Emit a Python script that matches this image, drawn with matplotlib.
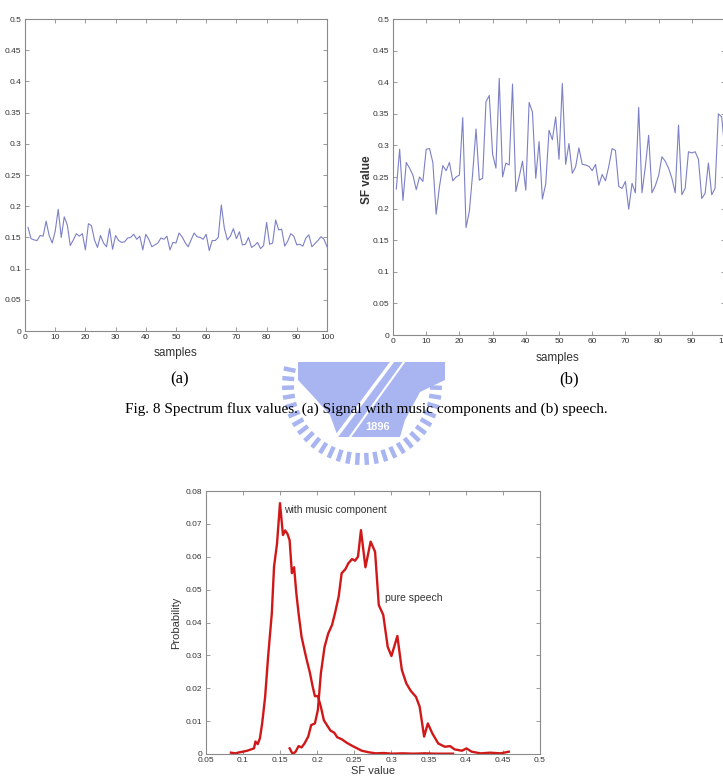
import numpy as np
import matplotlib
matplotlib.use('Agg')
import matplotlib.pyplot as plt
from matplotlib.patches import Polygon, Rectangle

# D A T A  ---------------------------------------------------------

samples = list(range(1, 101))

# (a) SF values, signal with music components
sf_music = [0.166, 0.148, 0.146, 0.145, 0.153, 0.152, 0.176, 0.153, 0.141, 0.160,
            0.195, 0.150, 0.183, 0.170, 0.137, 0.146, 0.156, 0.152, 0.156, 0.130,
            0.172, 0.169, 0.146, 0.134, 0.153, 0.141, 0.135, 0.164, 0.131, 0.153,
            0.145, 0.142, 0.143, 0.149, 0.150, 0.155, 0.147, 0.152, 0.130, 0.155,
            0.147, 0.135, 0.138, 0.141, 0.149, 0.147, 0.152, 0.130, 0.142, 0.141,
            0.157, 0.151, 0.142, 0.135, 0.146, 0.157, 0.151, 0.150, 0.147, 0.155,
            0.129, 0.145, 0.145, 0.150, 0.202, 0.165, 0.146, 0.152, 0.164, 0.148,
            0.159, 0.138, 0.139, 0.150, 0.134, 0.137, 0.142, 0.132, 0.137, 0.174,
            0.139, 0.141, 0.178, 0.162, 0.163, 0.136, 0.144, 0.156, 0.152, 0.138,
            0.139, 0.136, 0.149, 0.154, 0.135, 0.140, 0.145, 0.151, 0.147, 0.135]

# (b) SF values, speech
sf_speech = [0.231, 0.294, 0.213, 0.273, 0.264, 0.253, 0.230, 0.250, 0.243, 0.294,
             0.295, 0.273, 0.191, 0.235, 0.268, 0.260, 0.273, 0.244, 0.250, 0.253,
             0.344, 0.170, 0.196, 0.256, 0.326, 0.245, 0.248, 0.369, 0.379, 0.286,
             0.264, 0.406, 0.250, 0.272, 0.269, 0.397, 0.227, 0.250, 0.275, 0.229,
             0.368, 0.353, 0.248, 0.306, 0.215, 0.239, 0.324, 0.309, 0.345, 0.278,
             0.398, 0.270, 0.303, 0.256, 0.266, 0.296, 0.270, 0.269, 0.267, 0.260,
             0.270, 0.237, 0.254, 0.244, 0.267, 0.295, 0.292, 0.235, 0.232, 0.243,
             0.199, 0.240, 0.225, 0.360, 0.225, 0.266, 0.316, 0.225, 0.236, 0.252,
             0.282, 0.275, 0.264, 0.248, 0.225, 0.332, 0.222, 0.232, 0.290, 0.288,
             0.290, 0.278, 0.216, 0.224, 0.272, 0.222, 0.232, 0.350, 0.345, 0.290]

# (c) probability distributions of SF value
music_sf = [0.084, 0.090, 0.095, 0.100, 0.106, 0.111, 0.115, 0.117, 0.120, 0.123,
            0.126, 0.130, 0.134, 0.139, 0.142, 0.146, 0.150, 0.154, 0.157, 0.160,
            0.163, 0.166, 0.169, 0.172, 0.175, 0.179, 0.182, 0.186, 0.190, 0.194,
            0.197, 0.201, 0.205, 0.209, 0.214, 0.218, 0.223, 0.227, 0.233, 0.240,
            0.247, 0.254, 0.260, 0.270, 0.279, 0.290, 0.300, 0.315, 0.330, 0.345,
            0.360, 0.383]
music_prob = [0.0004, 0.0002, 0.0005, 0.0007, 0.0010, 0.0014, 0.0017, 0.0038, 0.0030, 0.0048,
              0.0093, 0.0174, 0.0296, 0.0428, 0.0570, 0.0640, 0.0763, 0.0666, 0.0680, 0.0670,
              0.0650, 0.0550, 0.0568, 0.0489, 0.0428, 0.0357, 0.0326, 0.0286, 0.0250, 0.0205,
              0.0176, 0.0176, 0.0144, 0.0103, 0.0085, 0.0071, 0.0065, 0.0051, 0.0045, 0.0034,
              0.0025, 0.0017, 0.0010, 0.0005, 0.0002, 0.0003, 0.0001, 0.0002, 0.0001, 0.0002,
              0.0001, 0.0001]

speech_sf = [0.163, 0.167, 0.171, 0.175, 0.179, 0.183, 0.188, 0.192, 0.197, 0.201,
             0.205, 0.210, 0.215, 0.220, 0.224, 0.229, 0.233, 0.238, 0.242, 0.247,
             0.251, 0.255, 0.259, 0.265, 0.272, 0.278, 0.283, 0.289, 0.295, 0.300,
             0.308, 0.314, 0.320, 0.326, 0.333, 0.338, 0.344, 0.349, 0.355, 0.363,
             0.372, 0.379, 0.385, 0.395, 0.401, 0.408, 0.420, 0.433, 0.447, 0.458]
speech_prob = [0.0017, 0.0000, 0.0007, 0.0024, 0.0020, 0.0032, 0.0053, 0.0088, 0.0093, 0.0134,
               0.0245, 0.0326, 0.0367, 0.0392, 0.0428, 0.0479, 0.0550, 0.0562, 0.0580, 0.0593,
               0.0588, 0.0600, 0.0681, 0.0568, 0.0646, 0.0615, 0.0453, 0.0423, 0.0326, 0.0298,
               0.0359, 0.0256, 0.0215, 0.0192, 0.0174, 0.0144, 0.0053, 0.0093, 0.0063, 0.0032,
               0.0022, 0.0024, 0.0014, 0.0010, 0.0017, 0.0007, 0.0002, 0.0004, 0.0002, 0.0007]

sf_ticks = [0, 0.05, 0.1, 0.15, 0.2, 0.25, 0.3, 0.35, 0.4, 0.45, 0.5]
sample_ticks = [0, 10, 20, 30, 40, 50, 60, 70, 80, 90, 100]
prob_ticks = [0, 0.01, 0.02, 0.03, 0.04, 0.05, 0.06, 0.07, 0.08]
dist_ticks = [0.05, 0.1, 0.15, 0.2, 0.25, 0.3, 0.35, 0.4, 0.45, 0.5]

caption = 'Fig. 8 Spectrum flux values. (a) Signal with music components and (b) speech.'

# L A Y O U T  -----------------------------------------------------
W, H = 723, 781
fig = plt.figure(figsize=(W / 100, H / 100), dpi=100)
plt.rcParams['font.family'] = ['Liberation Sans', 'DejaVu Sans']


def px_axes(x0, y0, x1, y1):
    # pixel box (top-left origin) -> figure axes
    return fig.add_axes([x0 / W, 1 - y1 / H, (x1 - x0) / W, (y1 - y0) / H])


def matlab_style(ax):
    for s in ax.spines.values():
        s.set_color('#8a8a8a')
        s.set_linewidth(0.8)
    ax.tick_params(direction='in', length=3, width=0.6, color='#8a8a8a',
                   top=True, right=True, labelsize=6, labelcolor='#333333', pad=2.5)


def fmt(v):
    return '0' if v == 0 else ('%g' % v)


line_col = '#7c80c6'

# (a)
ax1 = px_axes(25, 19, 327, 331)
ax1.plot(samples, sf_music, color=line_col, lw=0.8)
ax1.set_xlim(0, 100)
ax1.set_ylim(0, 0.5)
ax1.set_xticks(sample_ticks)
ax1.set_yticks(sf_ticks)
ax1.set_yticklabels([fmt(v) for v in sf_ticks])
matlab_style(ax1)
fig.text(175 / W, 1 - 353 / H, 'samples', ha='center', va='center', fontsize=8.5, color='#333333')
fig.text(-3 / W, 1 - 173 / H, 'SF value', ha='center', va='center', rotation=90,
         fontsize=8.5, fontweight='bold', color='#333333')

# (b)
ax2 = px_axes(393, 19, 725, 335)
ax2.plot(samples, sf_speech, color=line_col, lw=0.8)
ax2.set_xlim(0, 100)
ax2.set_ylim(0, 0.5)
ax2.set_xticks(sample_ticks)
ax2.set_yticks(sf_ticks)
ax2.set_yticklabels([fmt(v) for v in sf_ticks])
matlab_style(ax2)
fig.text(558 / W, 1 - 358 / H, 'samples', ha='center', va='center', fontsize=8.5, color='#333333')
fig.text(367 / W, 1 - 180 / H, 'SF value', ha='center', va='center', rotation=90,
         fontsize=8.5, fontweight='bold', color='#333333')

serif = ['Liberation Serif', 'DejaVu Serif']
fig.text(180 / W, 1 - 379 / H, '(a)', ha='center', va='center', fontsize=12, family=serif)
fig.text(569 / W, 1 - 379 / H, '(b)', ha='center', va='center', fontsize=12, family=serif)

# watermark (school logo), drawn in pixel space behind the caption
wm = fig.add_axes([0, 0, 1, 1], zorder=-1)
wm.set_xlim(0, W)
wm.set_ylim(H, 0)
wm.axis('off')
wcol = '#a8b5f0'
cx, cy, r = 362, 385, 80
for a in np.linspace(np.radians(-12), np.radians(192), 30):
    wm.plot([cx + (r - 12) * np.cos(a), cx + r * np.cos(a)],
            [cy + (r - 12) * np.sin(a), cy + r * np.sin(a)],
            color=wcol, lw=3.2, solid_capstyle='butt')
wm.add_patch(Polygon([[298, 362], [445, 362], [445, 380], [420, 392], [405, 420],
                      [400, 437], [338, 437], [330, 415], [312, 395], [298, 380]],
                     closed=True, fc=wcol, ec='none'))
wm.plot([392, 336], [362, 437], color='white', lw=2.5)
wm.plot([404, 350], [362, 437], color='white', lw=1.5)
wm.add_patch(Rectangle((358, 420), 40, 13, fc=wcol, ec='none'))
wm.text(378, 427, '1896', color='white', ha='center', va='center', fontsize=8, fontweight='bold')

fig.text(366 / W, 1 - 409 / H, caption, ha='center', va='center', fontsize=11, family=serif)

# (c)
ax3 = px_axes(205.7, 491, 540, 754)
ax3.plot(music_sf, music_prob, color='#d01818', lw=1.7)
ax3.plot(speech_sf, speech_prob, color='#d01818', lw=1.7)
ax3.set_xlim(0.05, 0.5)
ax3.set_ylim(0, 0.08)
ax3.set_xticks(dist_ticks)
ax3.set_xticklabels([fmt(v) for v in dist_ticks])
ax3.set_yticks(prob_ticks)
ax3.set_yticklabels([fmt(v) for v in prob_ticks])
matlab_style(ax3)
ax3.text(0.156, 0.0742, 'with music component', fontsize=7.5, va='center', color='#333333')
ax3.text(0.291, 0.0474, 'pure speech', fontsize=7.5, va='center', color='#333333')
ax3.set_xlabel('SF value', fontsize=8, color='#333333', labelpad=1)
ax3.set_ylabel('Probability', fontsize=8, color='#333333', labelpad=3)

fig.savefig('out.png', dpi=100)
